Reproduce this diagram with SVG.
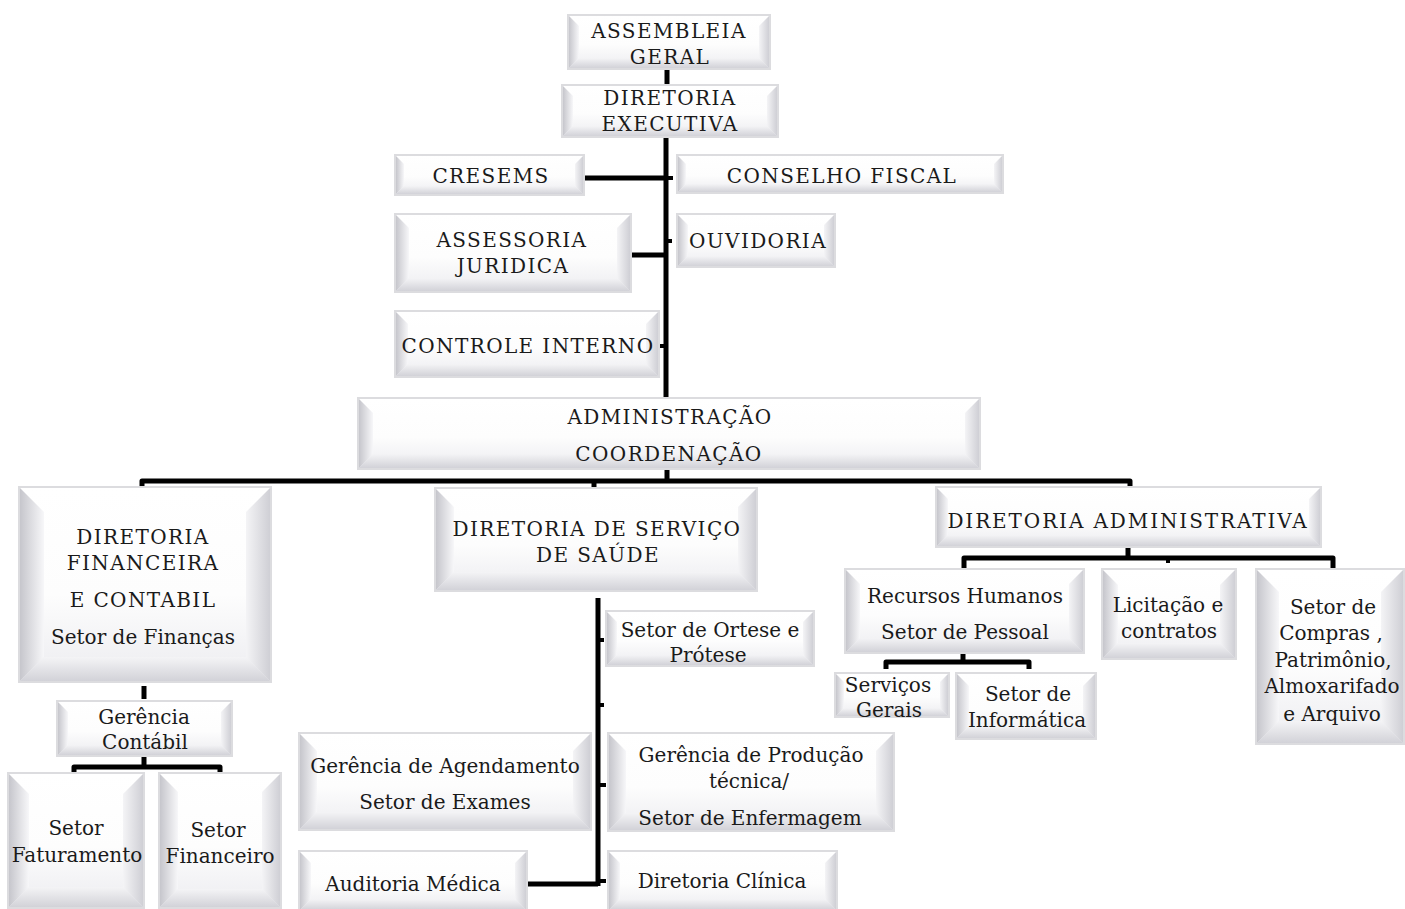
<svg xmlns="http://www.w3.org/2000/svg" width="1405" height="909" viewBox="0 0 1405 909">
<defs>
<linearGradient id="gFace" x1="0" y1="0" x2="0" y2="1"><stop offset="0" stop-color="#ffffff"/><stop offset="0.55" stop-color="#fdfdfd"/><stop offset="1" stop-color="#ececf0"/></linearGradient>
<linearGradient id="gL" x1="0" y1="0" x2="1" y2="0"><stop offset="0" stop-color="#c6c6cc"/><stop offset="1" stop-color="#f7f7f9"/></linearGradient>
<linearGradient id="gB" x1="0" y1="0" x2="0" y2="1"><stop offset="0" stop-color="#f4f4f6"/><stop offset="1" stop-color="#d2d2d8"/></linearGradient>
<linearGradient id="gR" x1="0" y1="0" x2="1" y2="0"><stop offset="0" stop-color="#f4f4f6"/><stop offset="1" stop-color="#cfcfd5"/></linearGradient>
</defs>
<style>
.fr{fill:#dcdcdf}
.fc{fill:url(#gFace)}
.bl{fill:url(#gL)}
.bb{fill:url(#gB)}
.br{fill:url(#gR)}
text{font-family:"DejaVu Serif","Liberation Serif",serif;font-size:20px;fill:#1a1a1a;text-anchor:middle}
.c{letter-spacing:1.4px}
.cw{letter-spacing:1.9px}
.cn{fill:none;stroke:#000;stroke-width:5;stroke-linejoin:round}
.tk{fill:none;stroke:#000;stroke-width:4}
</style>
<rect width="1405" height="909" fill="#ffffff"/>

<g id="connectors">
<path class="cn" d="M667 70V84"/>
<path class="cn" d="M666 138V397"/>
<path class="cn" d="M585 178H666"/>
<path class="cn" d="M632 255H666"/>
<path class="tk" d="M666 178H673M666 241H672M660 346H666"/>
<path class="cn" d="M667 470V481"/>
<path class="cn" d="M142 488V481H1130V487"/>
<path class="cn" d="M594 481V487"/>
<path class="cn" d="M598 598V886"/>
<path class="cn" d="M528 884H598"/>
<path class="tk" d="M598 640H604M598 705H604M598 785H606M598 881H606"/>
<path class="cn" d="M964 568V558H1333V568"/>
<path class="cn" d="M1128 548V558"/>
<path class="tk" d="M1168 558V563"/>
<path class="cn" d="M886 669V662H1029V669"/>
<path class="cn" d="M963 654V662"/>
<path class="cn" d="M144 686V699"/>
<path class="cn" d="M74 773V767H220V773"/>
<path class="cn" d="M144 757V767"/>
</g>

<g id="n-assembleia" transform="translate(567,14)">
<rect class="fr" width="204" height="56"/><rect class="fc" x="2" y="2" width="200" height="52"/>
<polygon class="bl" points="2,2 12,12 12,44 2,54"/><polygon class="bb" points="2,54 12,44 192,44 202,54"/><polygon class="br" points="202,2 192,12 192,44 202,54"/>
<text class="c" x="102" y="24">ASSEMBLEIA</text><text class="c" x="103" y="50">GERAL</text>
</g>

<g id="n-dirExec" transform="translate(561,84)">
<rect class="fr" width="218" height="54"/><rect class="fc" x="2" y="2" width="214" height="50"/>
<polygon class="bl" points="2,2 12,12 12,42 2,52"/><polygon class="bb" points="2,52 12,42 206,42 216,52"/><polygon class="br" points="216,2 206,12 206,42 216,52"/>
<text class="c" x="109" y="21">DIRETORIA</text><text class="c" x="109" y="47">EXECUTIVA</text>
</g>

<g id="n-cresems" transform="translate(394,154)">
<rect class="fr" width="191" height="42"/><rect class="fc" x="2" y="2" width="187" height="38"/>
<polygon class="bl" points="2,2 10,10 10,32 2,40"/><polygon class="bb" points="2,40 10,32 181,32 189,40"/><polygon class="br" points="189,2 181,10 181,32 189,40"/>
<text class="c" x="97" y="29">CRESEMS</text>
</g>

<g id="n-conselho" transform="translate(676,154)">
<rect class="fr" width="328" height="40"/><rect class="fc" x="2" y="2" width="324" height="36"/>
<polygon class="bl" points="2,2 10,10 10,30 2,38"/><polygon class="bb" points="2,38 10,30 318,30 326,38"/><polygon class="br" points="326,2 318,10 318,30 326,38"/>
<text class="c" x="166" y="29">CONSELHO FISCAL</text>
</g>

<g id="n-assessoria" transform="translate(394,213)">
<rect class="fr" width="238" height="80"/><rect class="fc" x="2" y="2" width="234" height="76"/>
<polygon class="bl" points="2,2 15,15 15,65 2,78"/><polygon class="bb" points="2,78 15,65 223,65 236,78"/><polygon class="br" points="236,2 223,15 223,65 236,78"/>
<text class="c" x="118" y="34">ASSESSORIA</text><text class="c" x="119" y="60">JURIDICA</text>
</g>

<g id="n-ouvidoria" transform="translate(676,213)">
<rect class="fr" width="160" height="55"/><rect class="fc" x="2" y="2" width="156" height="51"/>
<polygon class="bl" points="2,2 12,12 12,43 2,53"/><polygon class="bb" points="2,53 12,43 148,43 158,53"/><polygon class="br" points="158,2 148,12 148,43 158,53"/>
<text class="c" x="82" y="35">OUVIDORIA</text>
</g>

<g id="n-controle" transform="translate(394,310)">
<rect class="fr" width="266" height="68"/><rect class="fc" x="2" y="2" width="262" height="64"/>
<polygon class="bl" points="2,2 14,14 14,54 2,66"/><polygon class="bb" points="2,66 14,54 252,54 264,66"/><polygon class="br" points="264,2 252,14 252,54 264,66"/>
<text class="c" x="134" y="43">CONTROLE INTERNO</text>
</g>

<g id="n-admin" transform="translate(357,397)">
<rect class="fr" width="624" height="73"/><rect class="fc" x="2" y="2" width="620" height="69"/>
<polygon class="bl" points="2,2 16,16 16,57 2,71"/><polygon class="bb" points="2,71 16,57 608,57 622,71"/><polygon class="br" points="622,2 608,16 608,57 622,71"/>
<text class="c" x="313" y="27">ADMINISTRAÇÃO</text><text class="c" x="312" y="64">COORDENAÇÃO</text>
</g>

<g id="n-dirFin" transform="translate(18,486)">
<rect class="fr" width="254" height="197"/><rect class="fc" x="2" y="2" width="250" height="193"/>
<polygon class="bl" points="2,2 26,26 26,171 2,195"/><polygon class="bb" points="2,195 26,171 228,171 252,195"/><polygon class="br" points="252,2 228,26 228,171 252,195"/>
<text class="c" x="125" y="58">DIRETORIA</text><text class="c" x="125" y="84">FINANCEIRA</text><text class="c" x="125" y="121">E CONTABIL</text><text x="125" y="158">Setor de Finanças</text>
</g>

<g id="n-dirSaude" transform="translate(434,487)">
<rect class="fr" width="324" height="105"/><rect class="fc" x="2" y="2" width="320" height="101"/>
<polygon class="bl" points="2,2 20,20 20,85 2,103"/><polygon class="bb" points="2,103 20,85 304,85 322,103"/><polygon class="br" points="322,2 304,20 304,85 322,103"/>
<text class="c" x="163" y="49">DIRETORIA DE SERVIÇO</text><text class="c" x="164" y="75">DE SAÚDE</text>
</g>

<g id="n-dirAdm" transform="translate(935,486)">
<rect class="fr" width="387" height="62"/><rect class="fc" x="2" y="2" width="383" height="58"/>
<polygon class="bl" points="2,2 13,13 13,49 2,60"/><polygon class="bb" points="2,60 13,49 374,49 385,60"/><polygon class="br" points="385,2 374,13 374,49 385,60"/>
<text class="cw" x="193" y="42">DIRETORIA ADMINISTRATIVA</text>
</g>

<g id="n-rh" transform="translate(844,568)">
<rect class="fr" width="241" height="86"/><rect class="fc" x="2" y="2" width="237" height="82"/>
<polygon class="bl" points="2,2 16,16 16,70 2,84"/><polygon class="bb" points="2,84 16,70 225,70 239,84"/><polygon class="br" points="239,2 225,16 225,70 239,84"/>
<text x="121" y="35">Recursos Humanos</text><text x="121" y="71">Setor de Pessoal</text>
</g>

<g id="n-licitacao" transform="translate(1101,568)">
<rect class="fr" width="136" height="92"/><rect class="fc" x="2" y="2" width="132" height="88"/>
<polygon class="bl" points="2,2 17,17 17,75 2,90"/><polygon class="bb" points="2,90 17,75 119,75 134,90"/><polygon class="br" points="134,2 119,17 119,75 134,90"/>
<text x="67" y="44">Licitação e</text><text x="68" y="70">contratos</text>
</g>

<g id="n-compras" transform="translate(1255,568)">
<rect class="fr" width="150" height="177"/><rect class="fc" x="2" y="2" width="146" height="173"/>
<polygon class="bl" points="2,2 24,24 24,153 2,175"/><polygon class="bb" points="2,175 24,153 126,153 148,175"/><polygon class="br" points="148,2 126,24 126,153 148,175"/>
<text x="78" y="46">Setor de</text><text x="76" y="72">Compras ,</text><text x="78" y="99">Patrimônio,</text><text x="77" y="125">Almoxarifado</text><text x="77" y="153">e Arquivo</text>
</g>

<g id="n-servicos" transform="translate(834,672)">
<rect class="fr" width="116" height="46"/><rect class="fc" x="2" y="2" width="112" height="42"/>
<polygon class="bl" points="2,2 10,10 10,36 2,44"/><polygon class="bb" points="2,44 10,36 106,36 114,44"/><polygon class="br" points="114,2 106,10 106,36 114,44"/>
<text x="54" y="20">Serviços</text><text x="55" y="45">Gerais</text>
</g>

<g id="n-informatica" transform="translate(955,672)">
<rect class="fr" width="142" height="68"/><rect class="fc" x="2" y="2" width="138" height="64"/>
<polygon class="bl" points="2,2 14,14 14,54 2,66"/><polygon class="bb" points="2,66 14,54 128,54 140,66"/><polygon class="br" points="140,2 128,14 128,54 140,66"/>
<text x="73" y="29">Setor de</text><text x="72" y="55">Informática</text>
</g>

<g id="n-gerContabil" transform="translate(56,700)">
<rect class="fr" width="177" height="57"/><rect class="fc" x="2" y="2" width="173" height="53"/>
<polygon class="bl" points="2,2 12,12 12,45 2,55"/><polygon class="bb" points="2,55 12,45 165,45 175,55"/><polygon class="br" points="175,2 165,12 165,45 175,55"/>
<text x="88" y="24">Gerência</text><text x="89" y="49">Contábil</text>
</g>

<g id="n-faturamento" transform="translate(7,772)">
<rect class="fr" width="138" height="137"/><rect class="fc" x="2" y="2" width="134" height="133"/>
<polygon class="bl" points="2,2 22,22 22,115 2,135"/><polygon class="bb" points="2,135 22,115 116,115 136,135"/><polygon class="br" points="136,2 116,22 116,115 136,135"/>
<text x="69" y="63">Setor</text><text x="70" y="90">Faturamento</text>
</g>

<g id="n-financeiro" transform="translate(158,772)">
<rect class="fr" width="124" height="137"/><rect class="fc" x="2" y="2" width="120" height="133"/>
<polygon class="bl" points="2,2 20,20 20,117 2,135"/><polygon class="bb" points="2,135 20,117 104,117 122,135"/><polygon class="br" points="122,2 104,20 104,117 122,135"/>
<text x="60" y="65">Setor</text><text x="62" y="91">Financeiro</text>
</g>

<g id="n-ortese" transform="translate(605,610)">
<rect class="fr" width="210" height="57"/><rect class="fc" x="2" y="2" width="206" height="53"/>
<polygon class="bl" points="2,2 12,12 12,45 2,55"/><polygon class="bb" points="2,55 12,45 198,45 208,55"/><polygon class="br" points="208,2 198,12 198,45 208,55"/>
<text x="105" y="27">Setor de Ortese e</text><text x="103" y="52">Prótese</text>
</g>

<g id="n-agendamento" transform="translate(298,732)">
<rect class="fr" width="294" height="99"/><rect class="fc" x="2" y="2" width="290" height="95"/>
<polygon class="bl" points="2,2 19,19 19,80 2,97"/><polygon class="bb" points="2,97 19,80 275,80 292,97"/><polygon class="br" points="292,2 275,19 275,80 292,97"/>
<text x="147" y="41">Gerência de Agendamento</text><text x="147" y="77">Setor de Exames</text>
</g>

<g id="n-producao" transform="translate(607,732)">
<rect class="fr" width="288" height="100"/><rect class="fc" x="2" y="2" width="284" height="96"/>
<polygon class="bl" points="2,2 19,19 19,81 2,98"/><polygon class="bb" points="2,98 19,81 269,81 286,98"/><polygon class="br" points="286,2 269,19 269,81 286,98"/>
<text x="144" y="30">Gerência de Produção</text><text x="142" y="56">técnica/</text><text x="143" y="93">Setor de Enfermagem</text>
</g>

<g id="n-auditoria" transform="translate(298,850)">
<rect class="fr" width="230" height="62"/><rect class="fc" x="2" y="2" width="226" height="58"/>
<polygon class="bl" points="2,2 13,13 13,49 2,60"/><polygon class="bb" points="2,60 13,49 217,49 228,60"/><polygon class="br" points="228,2 217,13 217,49 228,60"/>
<text x="115" y="41">Auditoria Médica</text>
</g>

<g id="n-clinica" transform="translate(607,850)">
<rect class="fr" width="231" height="62"/><rect class="fc" x="2" y="2" width="227" height="58"/>
<polygon class="bl" points="2,2 13,13 13,49 2,60"/><polygon class="bb" points="2,60 13,49 218,49 229,60"/><polygon class="br" points="229,2 218,13 218,49 229,60"/>
<text x="115" y="38">Diretoria Clínica</text>
</g>
</svg>
